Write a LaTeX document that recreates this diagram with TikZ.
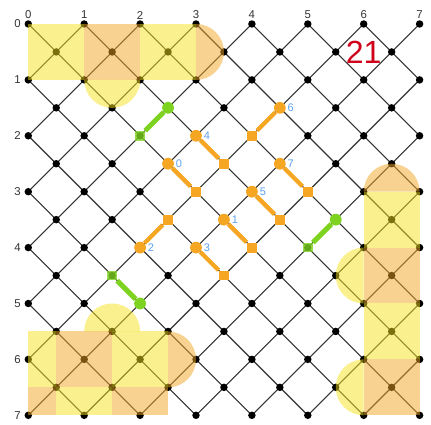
\documentclass[tikz,border=0pt]{standalone}
\usepackage{fontspec}
\setmainfont{Liberation Sans}
\usepackage{xcolor}
\usepackage{tikz}
\usetikzlibrary{positioning}

\definecolor{tileyellow}{RGB}{245,225,30}
\definecolor{tileorange}{RGB}{240,165,35}
\definecolor{pathorange}{RGB}{245,166,35}
\definecolor{pathgreen}{RGB}{126,211,33}
\definecolor{numblue}{RGB}{90,160,240}
\definecolor{countred}{RGB}{208,2,27}

\begin{document}
\begin{tikzpicture}[
  x=1cm, y=-1cm,
  lattice/.style={line width=0.55pt, black!80},
  dot/.style={circle, fill=black, inner sep=0pt, minimum size=3.8pt},
  ytile/.style={fill=tileyellow, fill opacity=0.5},
  otile/.style={fill=tileorange, fill opacity=0.5},
  ostart/.style={circle, fill=pathorange, inner sep=0pt, minimum size=6pt},
  oend/.style={rectangle, fill=pathorange, inner sep=0pt, minimum size=5pt},
  gstart/.style={rectangle, fill=pathgreen, fill opacity=0.8, inner sep=0pt, minimum size=4.8pt},
  gend/.style={circle, fill=pathgreen, inner sep=0pt, minimum size=6pt},
  opath/.style={pathorange, line width=2.2pt},
  gpath/.style={pathgreen, line width=2.6pt},
  num/.style={text=numblue, font=\fontsize{5.6}{6}\selectfont, inner sep=0pt},
  axis/.style={text=black!80, font=\fontsize{5.8}{6}\selectfont, inner sep=0pt}
]
\useasboundingbox (-0.506,-0.429) rectangle (7.204,7.156);

% diagonal lattice
\begin{scope}
  \clip (0,0) rectangle (7,7);
  \foreach \k in {-7,...,7}
    \draw[lattice] (\k,0) -- (\k+7,7);
  \foreach \k in {0,...,14}
    \draw[lattice] (\k,0) -- (\k-7,7);
\end{scope}

\foreach \i in {0,...,7}
  \foreach \j in {0,...,7}
    \node[dot] (p\i\j) at (\i,\j) {};
\foreach \i in {0,...,6}
  \foreach \j in {0,...,6}
    \node[dot] (c\i\j) at (\i+0.5,\j+0.5) {};

% axis numbers
\foreach \i in {0,...,7} {
  \node[axis] (tx\i) at (\i,-0.16) {\i};
  \node[axis] (ly\i) at (-0.19,\i) {\i};
}

% tiles
\fill[ytile] (0,0) rectangle (1,1);
\fill[otile] (1,0) rectangle (2,1);
\fill[ytile] (2,0) rectangle (3,1);
\fill[otile] (3,0) arc[start angle=-90, end angle=90, radius=0.5] -- cycle;
\fill[ytile] (1,1) arc[start angle=180, end angle=0, radius=0.5] -- cycle;

\fill[otile] (6,3) arc[start angle=180, end angle=360, radius=0.5] -- cycle;
\fill[ytile] (6,3) rectangle (7,4);
\fill[otile] (6,4) rectangle (7,5);
\fill[ytile] (6,5) rectangle (7,6);
\fill[otile] (6,6) rectangle (7,7);
\fill[ytile] (6,4) arc[start angle=270, end angle=90, radius=0.5] -- cycle;
\fill[ytile] (6,6) arc[start angle=270, end angle=90, radius=0.5] -- cycle;

\fill[ytile] (1,5.5) arc[start angle=180, end angle=360, radius=0.5] -- cycle;
\fill[ytile] (0,5.5) rectangle (0.5,6.5);
\fill[otile] (0.5,5.5) rectangle (1.5,6.5);
\fill[ytile] (1.5,5.5) rectangle (2.5,6.5);
\fill[otile] (2.5,5.5) arc[start angle=-90, end angle=90, radius=0.5] -- cycle;
\fill[otile] (0,6.5) rectangle (0.5,7);
\fill[ytile] (0.5,6.5) rectangle (1.5,7);
\fill[otile] (1.5,6.5) rectangle (2.5,7);

% orange moves
\node[ostart] (s0) at (2.5,2.5) {};
\node[oend] (e0) at (3,3) {};
\node[ostart] (s1) at (3.5,3.5) {};
\node[oend] (e1) at (4,4) {};
\node[ostart] (s2) at (2,4) {};
\node[oend] (e2) at (2.5,3.5) {};
\node[ostart] (s3) at (3,4) {};
\node[oend] (e3) at (3.5,4.5) {};
\node[ostart] (s4) at (3,2) {};
\node[oend] (e4) at (3.5,2.5) {};
\node[ostart] (s5) at (4,3) {};
\node[oend] (e5) at (4.5,3.5) {};
\node[ostart] (s6) at (4.5,1.5) {};
\node[oend] (e6) at (4,2) {};
\node[ostart] (s7) at (4.5,2.5) {};
\node[oend] (e7) at (5,3) {};

\foreach \n in {0,...,7} {
  \draw[opath] (s\n) -- (e\n);
  \node[num, right=0.6pt of s\n] (n\n) {\n};
}

% green moves
\node[gstart] (ga) at (2,2) {};
\node[gend] (gb) at (2.5,1.5) {};
\node[gstart] (gc) at (5,4) {};
\node[gend] (gd) at (5.5,3.5) {};
\node[gstart] (ge) at (1.5,4.5) {};
\node[gend] (gf) at (2,5) {};

\draw[gpath] (ga) -- (gb);
\draw[gpath] (gc) -- (gd);
\draw[gpath] (ge) -- (gf);

\node[text=countred, font=\fontsize{16.3}{18}\selectfont, inner sep=0pt] (count) at (6,0.5) {21};

\end{tikzpicture}
\end{document}
